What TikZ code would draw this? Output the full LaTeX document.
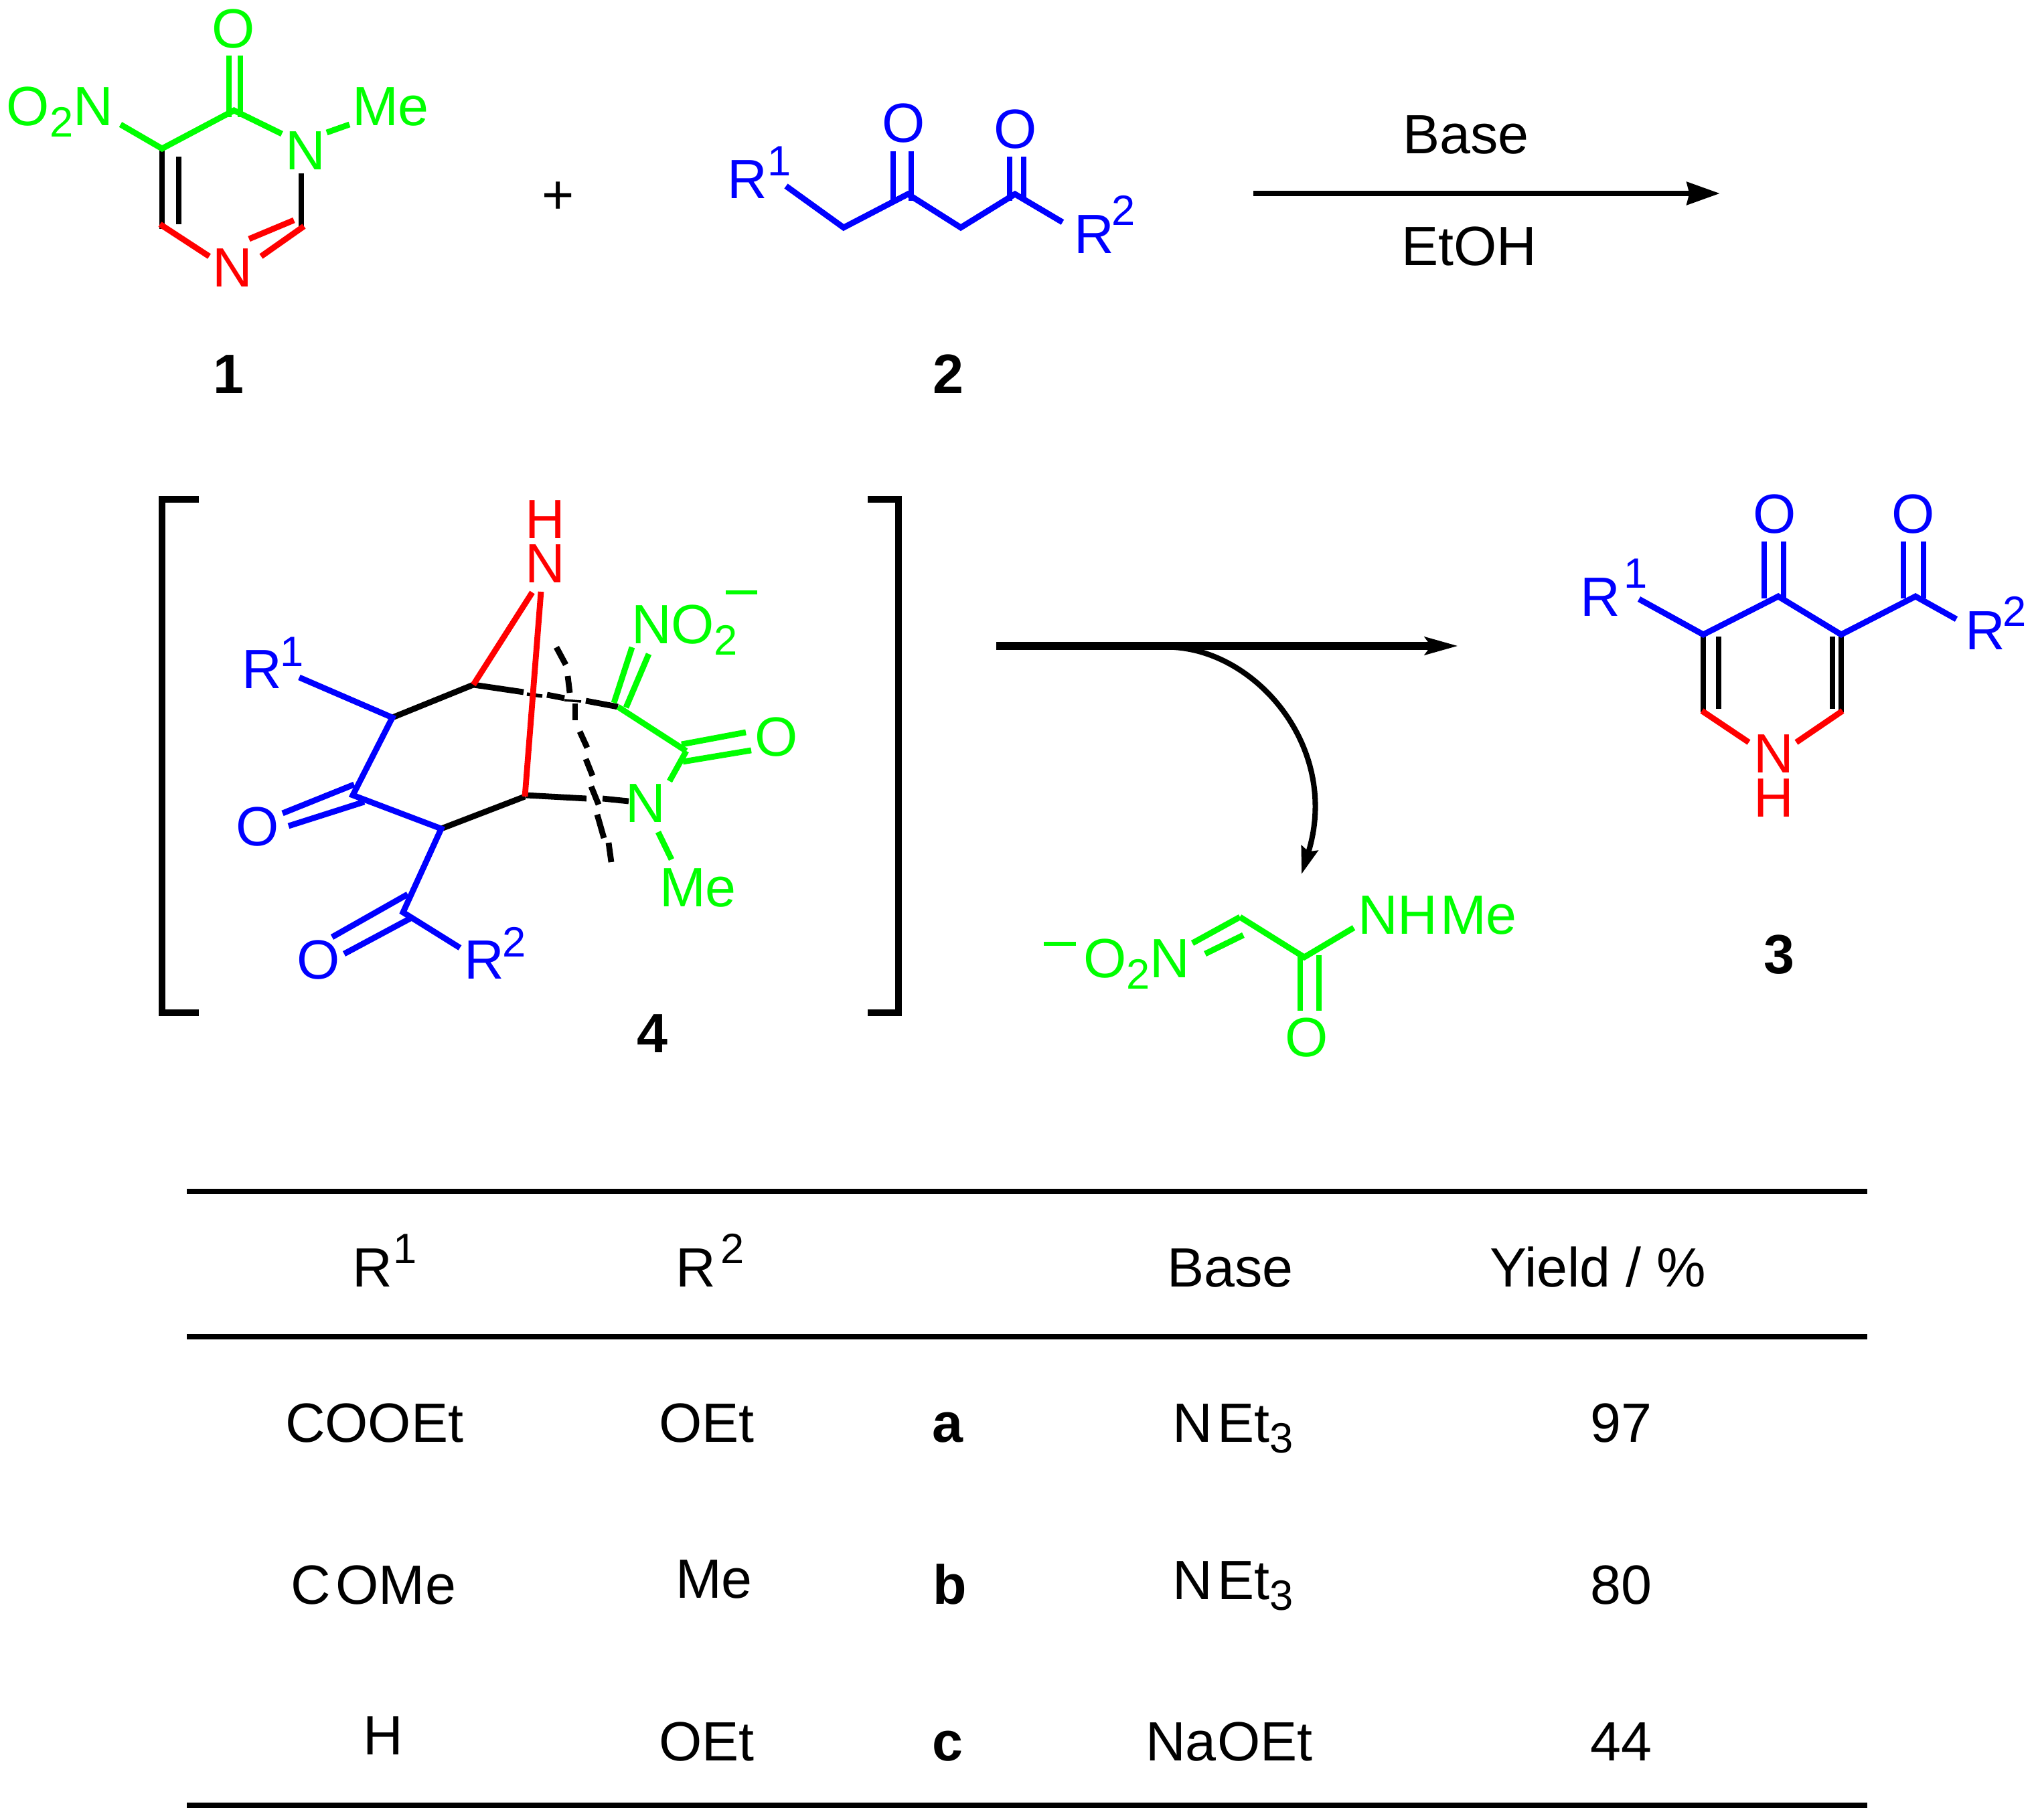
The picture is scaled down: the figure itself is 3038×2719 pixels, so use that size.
\documentclass[tikz,border=0pt]{standalone}
\usepackage{fontspec}
\setmainfont{Liberation Sans}
\usetikzlibrary{arrows.meta}
\definecolor{grn}{RGB}{0,255,0}
\definecolor{rd}{RGB}{255,0,0}
\definecolor{blu}{RGB}{0,0,255}
\newcommand{\normsz}{\fontsize{23.5}{24}\selectfont}
\newcommand{\smsz}{\fontsize{18}{18}\selectfont}
\newcommand{\sbs}[1]{\raisebox{-4.6pt}{\smsz #1}}
\tikzset{
  x=0.01cm,y=-0.01cm,
  bond/.style={line width=2.5pt},
  thinbond/.style={line width=2.2pt},
  gb/.style={bond,color=grn},
  rb/.style={bond,color=rd},
  bb/.style={bond,color=blu},
  kb/.style={bond,color=black},
  rule/.style={line width=2.5pt,color=black},
  lab/.style={inner sep=0pt,outer sep=0pt,anchor=base west,font=\normsz},
  labc/.style={inner sep=0pt,outer sep=0pt,anchor=base,font=\normsz},
  labr/.style={inner sep=0pt,outer sep=0pt,anchor=base east,font=\normsz},
  sm/.style={inner sep=0pt,outer sep=0pt,anchor=base west,font=\smsz},
  num/.style={inner sep=0pt,outer sep=0pt,anchor=base,font=\normsz\bfseries},
}
\begin{document}
\begin{tikzpicture}
\useasboundingbox[fill=white] (0,0) rectangle (3038,2719);
% ===== compound 1 =====
\coordinate (a1) at (349.5,165);
\coordinate (a2) at (242,222);
\coordinate (a3) at (242,337);
\draw[gb] (342,83) -- (342,175);
\draw[gb] (359,83) -- (359,175);
\draw[kb] (a2) -- (242,342);
\draw[kb,thinbond] (267,234) -- (267,335);
\draw[kb] (450,259) -- (450,342);
\draw[gb,line join=miter] (180,186) -- (a2) -- (a1) -- (421,200);
\draw[gb] (488,198) -- (522,186);
\draw[rb] (239,335) -- (312.5,383);
\draw[rb] (390,383) -- (454,338);
\draw[rb] (372,357) -- (439,329);
\node[labc,text=grn] (o1) at (349,72) {O};
\node[labr,text=grn] (no1) at (169,188) {O\sbs{2}N};
\node[labc,text=grn] (n1) at (456,254) {N};
\node[lab,text=grn] (me1) at (526,188) {Me};
\node[labc,text=rd] (n1b) at (347,429) {N};
\node[num] (c1) at (341,588) {1};
\node[labc] (plus) at (834,320) {+};
% ===== compound 2 =====
\draw[bb] (1334,226) -- (1334,300);
\draw[bb] (1361,226) -- (1361,300);
\draw[bb] (1508,234) -- (1508,300);
\draw[bb] (1529,234) -- (1529,300);
\draw[bb,line join=miter] (1174,278) -- (1260,340) -- (1356,290) -- (1435,340) -- (1516,290) -- (1587,332);
\node[lab,text=blu] (r1a) at (1086,297) {R};
\node[sm,text=blu] (r1as) at (1146,263) {1};
\node[labc,text=blu] (o2a) at (1350,213) {O};
\node[labc,text=blu] (o2b) at (1517,222) {O};
\node[lab,text=blu] (r2a) at (1604,379) {R};
\node[sm,text=blu] (r2as) at (1660,337) {2};
\node[num] (c2) at (1416,588) {2};
\coordinate (ar1s) at (1872,289);
\coordinate (ar1e) at (2569,289);
\draw[line width=2.5pt,-{Stealth[length=14pt,width=9.5pt,inset=1pt]}] (ar1s) -- (ar1e);
\node[lab] (base) at (2095,230) {Base};
\node[lab] (etoh) at (2093,397) {EtOH};
% ===== intermediate 4 =====
\draw[line width=2.8pt] (297,746) -- (242,746) -- (242,1513) -- (297,1513);
\draw[line width=2.8pt] (1296,746) -- (1342,746) -- (1342,1513) -- (1296,1513);
\coordinate (b1) at (586,1072);
\coordinate (b2) at (707,1023);
\coordinate (b3) at (923,1056);
\coordinate (b4) at (1025,1122);
\coordinate (b5) at (784,1190);
\coordinate (b6) at (659,1238);
\coordinate (b7) at (527,1188);
\coordinate (b8) at (602,1363);
\draw[kb] (b1) -- (b2);
\draw[kb] (b2) -- (782,1034);
\draw[kb,line width=1.5pt] (787,1037) -- (810,1040);
\draw[kb] (817,1038) -- (843,1043);
\draw[kb,line width=1pt] (843,1046) -- (868,1048);
\draw[kb] (875,1047) -- (b3);
\draw[kb] (b6) -- (b5);
\draw[kb] (785,1188) -- (876,1193);
\draw[kb] (900,1193) -- (939,1197);
% dashed bond
\draw[kb] (831,967) -- (845,993);
\draw[kb] (848,1010) -- (851,1035);
\draw[kb] (859,1051) -- (859,1076);
\draw[kb] (866,1093) -- (877,1117);
\draw[kb] (875,1134) -- (885,1159);
\draw[kb] (883,1175) -- (894,1202);
\draw[kb] (892,1217) -- (902,1252);
\draw[kb] (909,1259) -- (913,1288);
% red
\draw[rb] (795,885) -- (b2);
\draw[rb] (808,884) -- (b5);
% green
\draw[gb] (917,1050) -- (944,967);
\draw[gb] (935,1057) -- (969,977);
\draw[gb] (b3) -- (b4);
\draw[gb] (1018,1112) -- (1114,1094);
\draw[gb] (1020,1138) -- (1122,1121);
\draw[gb] (b4) -- (1000,1167);
\draw[gb] (983,1243) -- (1003,1284);
% blue
\draw[bb] (447,1012) -- (b1) -- (b7) -- (b6) -- (b8) -- (687,1416);
\draw[bb] (422,1215) -- (529,1172);
\draw[bb] (431,1234) -- (544,1198);
\draw[bb] (496,1400) -- (609,1336);
\draw[bb] (514,1425) -- (613,1372);
\node[labc,text=rd] (h4) at (814,804.5) {H};
\node[labc,text=rd] (n4) at (814,871) {N};
\node[lab,text=grn] (no4) at (943,962) {NO\sbs{2}};
\draw[grn,line width=1.7pt] (1084,885) -- (1131,885);
\node[labc,text=grn] (o4c) at (1160,1130) {O};
\node[labc,text=grn] (n4b) at (964,1229) {N};
\node[lab,text=grn] (me4) at (985,1355) {Me};
\node[lab,text=blu] (r14) at (361,1029) {R};
\node[sm,text=blu] (r14s) at (418,996) {1};
\node[labc,text=blu] (o4a) at (385,1264) {O};
\node[labc,text=blu] (o4b) at (476,1463) {O};
\node[lab,text=blu] (r24) at (693,1462) {R};
\node[sm,text=blu] (r24s) at (750,1430) {2};
\node[num] (c4) at (974,1572) {4};
% ===== arrows middle =====
\coordinate (ar2s) at (1488,965);
\coordinate (ar2e) at (2178,965);
\draw[line width=3.6pt,-{Stealth[length=14pt,width=7.4pt,inset=2.5pt]}] (ar2s) -- (ar2e);
\coordinate (ar3s) at (1754,967);
\coordinate (ar3e) at (1944,1306);
\draw[line width=2.3pt,-{Stealth[length=11.5pt,width=7.2pt,inset=1.5pt]}] (ar3s) .. controls (1880,975) and (2002,1120) .. (ar3e);
% ===== byproduct =====
\draw[gb] (1781,1409) -- (1852,1370);
\draw[gb] (1800,1425) -- (1857,1397);
\draw[gb] (1852,1370) -- (1948,1430) -- (2022,1386);
\draw[gb] (1942,1427) -- (1942,1510);
\draw[gb] (1970,1427) -- (1970,1510);
\draw[grn,line width=1.7pt] (1559,1410) -- (1607,1410);
\node[lab,text=grn] (no5) at (1618,1461) {O\sbs{2}N};
\node[lab,text=grn] (nh5) at (2028,1396) {NH};
\node[lab,text=grn] (me5) at (2151,1396) {Me};
\node[labc,text=grn] (o5) at (1952,1579) {O};
% ===== compound 3 =====
\coordinate (c31) at (2544,948);
\coordinate (c32) at (2656,891);
\coordinate (c33) at (2750,948);
\coordinate (c34) at (2861,891);
\draw[bb] (2635,809) -- (2635,894);
\draw[bb] (2664,809) -- (2664,894);
\draw[bb] (2843,809) -- (2843,894);
\draw[bb] (2873,809) -- (2873,894);
\draw[kb] (c31) -- (2544,1064);
\draw[kb,thinbond] (2567,951) -- (2567,1059);
\draw[kb] (c33) -- (2750,1064);
\draw[kb,thinbond] (2737,951) -- (2737,1059);
\draw[bb,line join=miter] (2448,895) -- (c31) -- (c32) -- (c33) -- (c34) -- (2922,925);
\draw[rb] (2542,1062) -- (2612,1109);
\draw[rb] (2752,1062) -- (2683,1109);
\node[labc,text=blu] (o3a) at (2651,797) {O};
\node[labc,text=blu] (o3b) at (2858,797) {O};
\node[lab,text=blu] (r13) at (2360,921) {R};
\node[sm,text=blu] (r13s) at (2425,879) {1};
\node[lab,text=blu] (r23) at (2935,971) {R};
\node[sm,text=blu] (r23s) at (2991,936) {2};
\node[labc,text=rd] (n3) at (2649,1155) {N};
\node[labc,text=rd] (h3) at (2649,1221) {H};
\node[num] (c3) at (2657,1455) {3};
% ===== table =====
\draw[rule] (279,1780) -- (2789,1780);
\draw[rule] (279,1997) -- (2789,1997);
\draw[rule] (279,2697) -- (2789,2697);
\node[lab] (t1) at (526,1922) {R};
\node[sm] (t1s) at (587,1887) {1};
\node[lab] (t2) at (1009,1922) {R};
\node[sm] (t2s) at (1076,1887) {2};
\node[lab] (t3) at (1743,1922) {Base};
\node[lab] (t4) at (2225,1922) {Yield / \%};
\node[lab] (r1a1) at (426,2154) {COOEt};
\node[lab] (r1b1) at (984,2154) {OEt};
\node[num] (la) at (1415,2154) {a};
\node[lab] (nea) at (1751,2154) {N};
\node[lab] (neb) at (1818,2154) {Et\sbs{3}};
\node[labc] (y1) at (2421,2154) {97};
\node[lab] (r1a2) at (434,2396) {C};
\node[lab] (r1a3) at (501,2396) {OM};
\node[lab] (r1a4) at (635,2396) {e};
\node[lab] (r1b2) at (1009,2387) {Me};
\node[num] (lb) at (1419,2396) {b};
\node[lab] (nec) at (1751,2389) {N};
\node[lab] (ned) at (1818,2389) {Et\sbs{3}};
\node[labc] (y2) at (2421,2396) {80};
\node[labc] (r1a5) at (572,2621) {H};
\node[lab] (r1b3) at (984,2630) {OEt};
\node[num] (lc) at (1415,2630) {c};
\node[lab] (na) at (1711,2630) {Na};
\node[lab] (oet) at (1818,2630) {OEt};
\node[labc] (y3) at (2421,2630) {44};
\end{tikzpicture}
\end{document}
